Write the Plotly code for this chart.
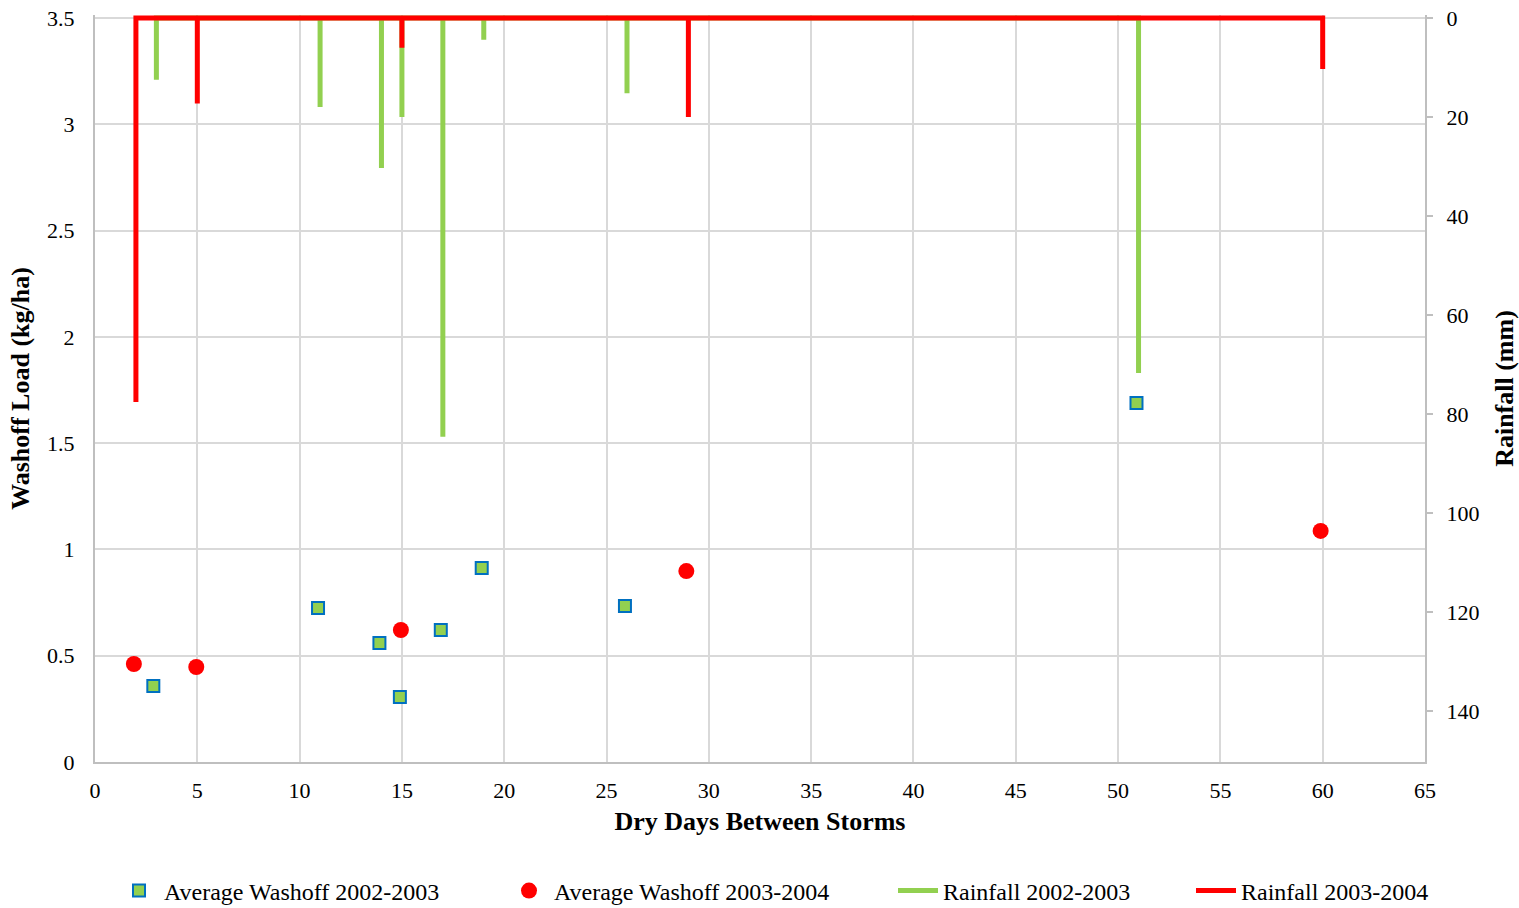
import plotly.graph_objects as go

# washoff load (kg/ha) vs dry days
wash_days_0203 = [2.85, 10.9, 13.9, 14.9, 16.9, 18.9, 25.9, 50.9]
wash_load_0203 = [0.357, 0.724, 0.56, 0.306, 0.621, 0.913, 0.734, 1.689]
wash_days_0304 = [1.9, 4.95, 14.95, 28.9, 59.9]
wash_load_0304 = [0.461, 0.447, 0.621, 0.898, 1.087]

# rainfall (mm) per storm, drawn as drops from the top axis
rain_days_0203 = [3, 11, 14, 15, 17, 19, 26, 51]
rain_mm_0203 = [12.5, 18.0, 30.3, 20.0, 84.6, 4.4, 15.2, 71.7]
rain_days_0304 = [2, 5, 15, 29, 60]
rain_mm_0304 = [77.6, 17.3, 6.0, 20.0, 10.3]

GREEN = "#92D050"
RED = "#FF0000"
BLUE = "#0070C0"
FONT = "Liberation Serif"
W, H = 1519, 908


def drop_path(days, mm):
    xs, ys = [], []
    for d, r in zip(days, mm):
        xs += [d, d, d]
        ys += [0, r, 0]
    return xs, ys


fig = go.Figure()

fig.add_trace(go.Scatter(
    x=wash_days_0203, y=wash_load_0203, mode="markers", name="Average Washoff 2002-2003",
    marker=dict(symbol="square", size=12, color=GREEN, line=dict(color=BLUE, width=2)),
    legend="legend",
))
fig.add_trace(go.Scatter(
    x=wash_days_0304, y=wash_load_0304, mode="markers", name="Average Washoff 2003-2004",
    marker=dict(symbol="circle", size=16, color=RED),
    legend="legend2",
))

gx, gy = drop_path(rain_days_0203, rain_mm_0203)
fig.add_trace(go.Scatter(
    x=gx, y=gy, mode="lines", name="Rainfall 2002-2003", yaxis="y2",
    line=dict(color=GREEN, width=5), legend="legend3",
))
rx, ry = drop_path(rain_days_0304, rain_mm_0304)
fig.add_trace(go.Scatter(
    x=rx, y=ry, mode="lines", name="Rainfall 2003-2004", yaxis="y2",
    line=dict(color=RED, width=5), legend="legend4",
))


def leg(px):
    return dict(
        orientation="h", xref="container", yref="container",
        x=px / W, xanchor="left", y=1 - 891 / H, yanchor="middle",
        font=dict(size=24), bgcolor="rgba(0,0,0,0)", itemwidth=40,
    )


fig.update_layout(
    width=W, height=H,
    showlegend=True,
    margin=dict(l=95, r=94, t=15, b=146, autoexpand=False),
    paper_bgcolor="white",
    plot_bgcolor="white",
    font=dict(family=FONT, size=22, color="black"),
    xaxis=dict(
        range=[0, 65], dtick=5, tick0=0,
        showgrid=True, gridcolor="#D9D9D9", gridwidth=2,
        showline=True, linecolor="#BFBFBF", linewidth=2,
        zeroline=False, ticks="", ticklabelstandoff=8,
        title=dict(text="<b>Dry Days Between Storms</b>", font=dict(size=26), standoff=9),
    ),
    yaxis=dict(
        range=[0, 3.514], dtick=0.5, tick0=0,
        showgrid=True, gridcolor="#D9D9D9", gridwidth=2,
        showline=True, linecolor="#BFBFBF", linewidth=2,
        zeroline=False, ticks="", ticklabelstandoff=14,
        title=dict(text="<b>Washoff Load (kg/ha)</b>", font=dict(size=26), standoff=10),
    ),
    yaxis2=dict(
        overlaying="y", side="right",
        range=[150.3, -0.6], dtick=20, tick0=0,
        showgrid=False, zeroline=False,
        showline=True, linecolor="#BFBFBF", linewidth=2,
        ticks="outside", ticklen=6, tickcolor="#BFBFBF", tickwidth=2,
        ticklabelstandoff=9,
        title=dict(text="<b>Rainfall (mm)</b>", font=dict(size=26), standoff=17),
    ),
    legend=leg(114),
    legend2=leg(504),
    legend3=leg(893),
    legend4=leg(1191),
)

fig.write_html(
    "out.html",
    config={"displayModeBar": False},
    post_script="document.body.style.margin='0';",
)
